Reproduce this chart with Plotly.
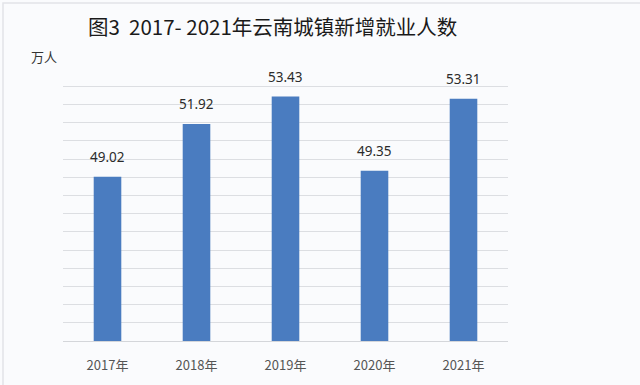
import plotly.graph_objects as go

years = ["2017年", "2018年", "2019年", "2020年", "2021年"]
values = [49.02, 51.92, 53.43, 49.35, 53.31]
labels = ["49.02", "51.92", "53.43", "49.35", "53.31"]

W, H = 640, 385
ml, mr, mt, mb = 63, 132, 68, 44

fig = go.Figure()
fig.add_trace(go.Bar(
    x=years, y=values, marker=dict(color="#4a7cc0", line=dict(width=0)),
    width=0.31, hoverinfo="skip"
))
for yr, v, lab in zip(years, values, labels):
    fig.add_annotation(x=yr, y=v, text=lab, showarrow=False, yanchor="bottom",
                       yshift=9, font=dict(size=13.5, color="#2b2b2b",
                                           family="Noto Sans, Noto Sans CJK SC"))

fig.add_annotation(xref="paper", yref="paper", x=(272 - ml) / (W - ml - mr),
                   y=1 + (mt - 26) / (H - mt - mb),
                   text="图3  2017- 2021年云南城镇新增就业人数", showarrow=False,
                   xanchor="center", yanchor="middle",
                   font=dict(size=20.5, color="#1a1a1a", family="Noto Sans CJK SC"))
fig.add_annotation(xref="paper", yref="paper", x=(44 - ml) / (W - ml - mr),
                   y=1 + (mt - 57) / (H - mt - mb),
                   text="万人", showarrow=False, xanchor="center", yanchor="middle",
                   font=dict(size=13, color="#333333", family="Noto Sans CJK SC"))

# light frame like the screenshot edge
fig.add_shape(type="rect", xref="paper", yref="paper",
              x0=(3 - ml) / (W - ml - mr), x1=(W + 5 - ml) / (W - ml - mr),
              y0=-(mb + 5) / (H - mt - mb), y1=1 + (mt - 3) / (H - mt - mb),
              line=dict(color="#e2e4e8", width=1.5), fillcolor="rgba(0,0,0,0)", layer="below")

fig.update_layout(
    width=W, height=H, margin=dict(l=ml, r=mr, t=mt, b=mb),
    paper_bgcolor="#fafbfd", plot_bgcolor="#fafbfd", showlegend=False,
    font=dict(family="Noto Sans CJK SC"),
    xaxis=dict(showgrid=False, showline=True, linecolor="#d4d6da", linewidth=1.2,
               ticks="outside", ticklen=12, tickcolor="rgba(0,0,0,0)",
               tickfont=dict(size=13, color="#555555", family="Noto Sans CJK SC"),
               fixedrange=True),
    yaxis=dict(range=[40, 55], dtick=1, showgrid=True, gridcolor="#dcdee2", gridwidth=1.2,
               showticklabels=False, zeroline=False, showline=False, fixedrange=True),
)
fig.write_html("out.html")
